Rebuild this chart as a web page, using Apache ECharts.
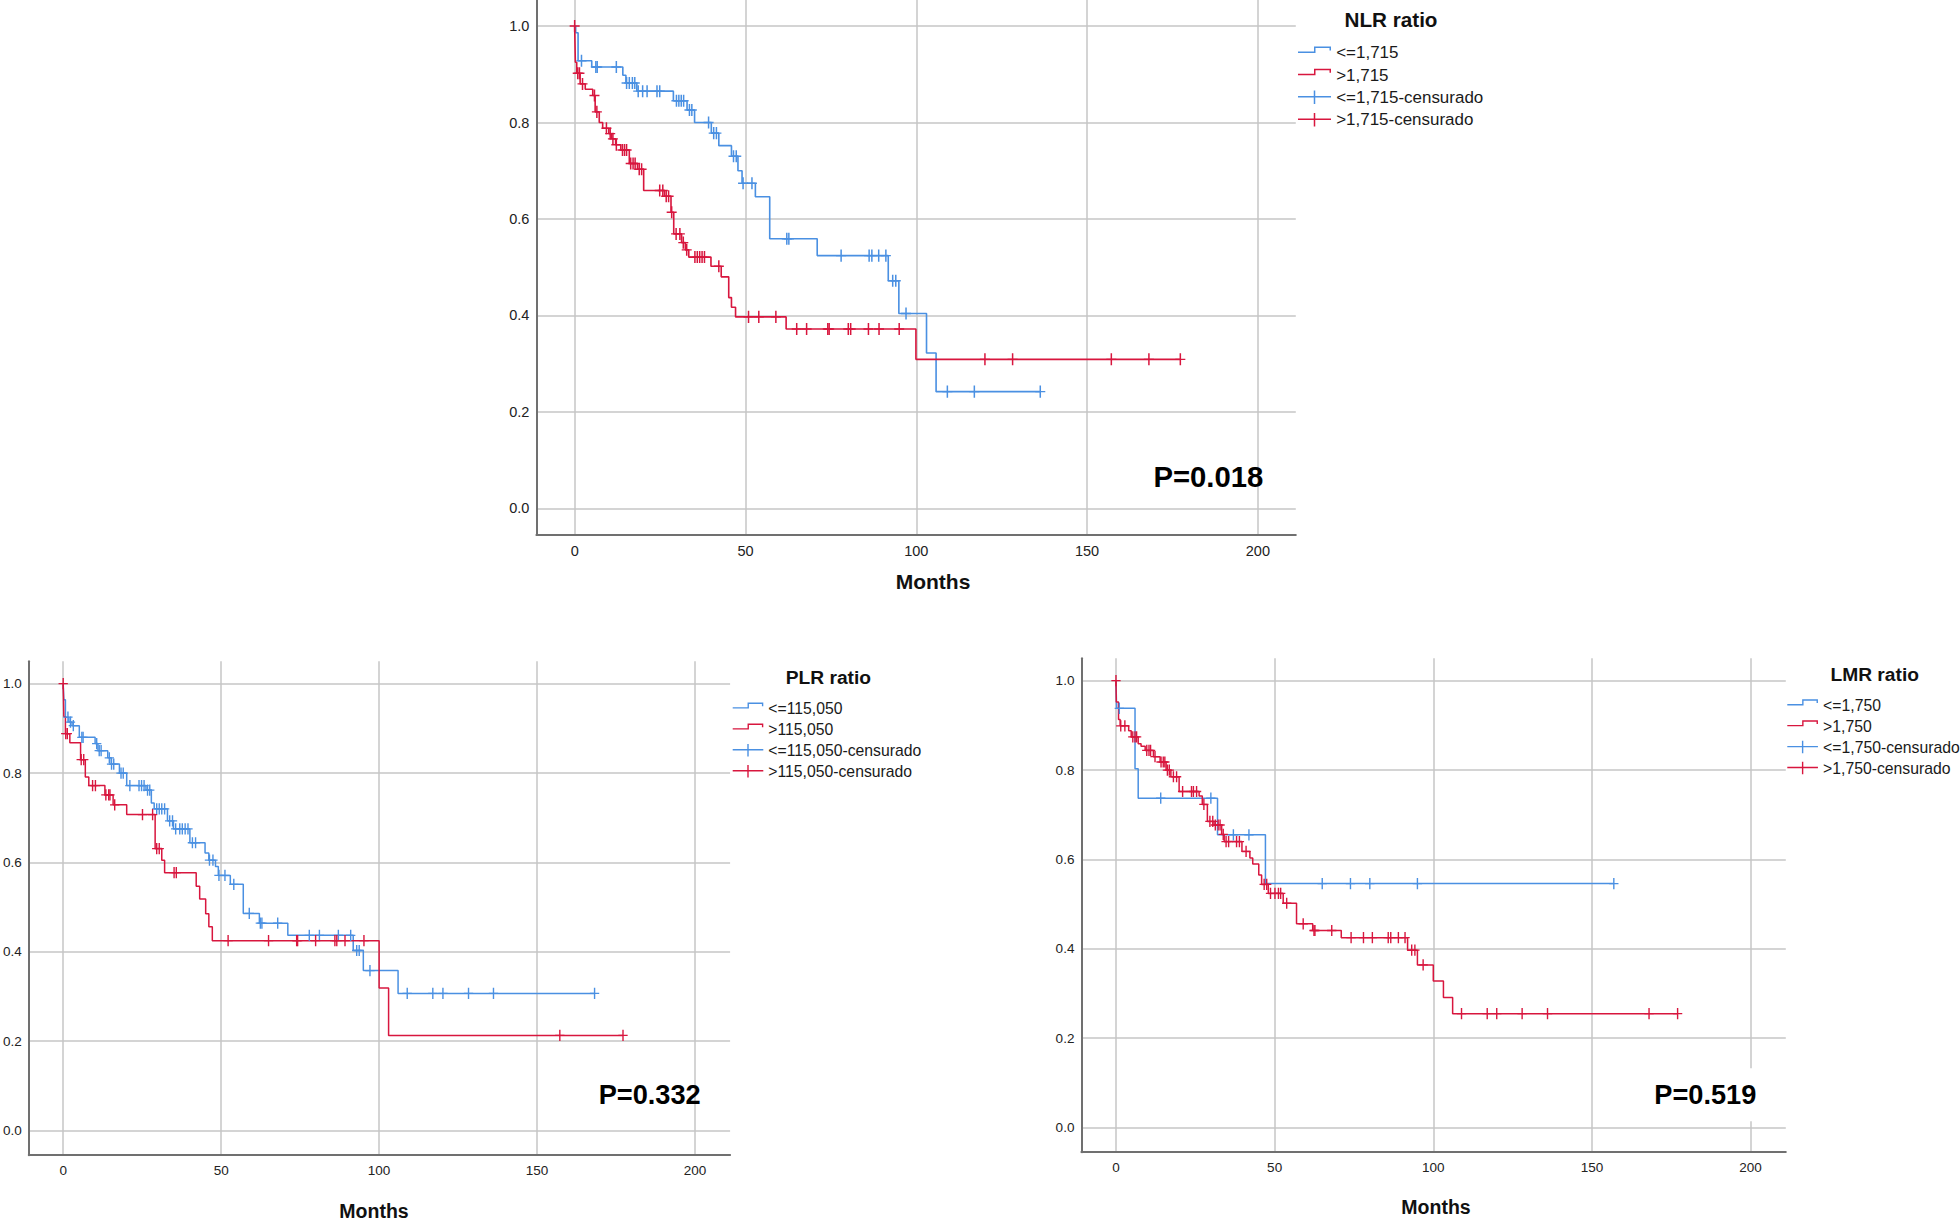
<!DOCTYPE html>
<html>
<head>
<meta charset="utf-8">
<title>Kaplan-Meier NLR / PLR / LMR</title>
<script src="https://cdn.jsdelivr.net/npm/echarts@6/dist/echarts.min.js"></script>
<style>
  html, body { margin: 0; padding: 0; background: #fff; }
  #chart { width: 1960px; height: 1221px; }
</style>
</head>
<body>
<div id="chart"></div>
<script>
// step drops: [month, survival after the drop]
const nlrLowDrops = [[0.3, 0.986], [1.0, 0.928], [5.0, 0.915], [14.1, 0.898], [15.0, 0.882], [18.2, 0.865], [28.9, 0.845], [32.9, 0.826], [35.1, 0.800], [40.0, 0.778], [42.2, 0.752], [45.9, 0.730], [47.8, 0.700], [49.0, 0.674], [52.9, 0.646], [57.1, 0.559], [71.0, 0.524], [91.8, 0.472], [94.9, 0.404], [103.0, 0.322], [105.8, 0.242]]
const nlrLowCensored = [2.0, 6.2, 6.6, 12.2, 15.2, 16.0, 16.9, 17.6, 18.6, 19.9, 21.2, 24.1, 24.9, 29.8, 30.5, 31.2, 31.9, 33.6, 34.3, 39.2, 40.7, 41.5, 46.5, 47.3, 49.3, 51.9, 62.1, 62.7, 78.0, 86.2, 87.0, 89.0, 91.1, 93.1, 94.0, 97.0, 109.1, 117.0, 136.3]
const nlrHighDrops = [[0.2, 0.925], [0.6, 0.902], [1.6, 0.880], [3.1, 0.869], [5.3, 0.856], [6.0, 0.822], [7.2, 0.800], [8.2, 0.788], [10.0, 0.777], [10.8, 0.766], [12.0, 0.754], [13.5, 0.743], [16.0, 0.715], [18.4, 0.703], [20.2, 0.659], [26.3, 0.647], [28.2, 0.614], [29.0, 0.569], [31.3, 0.551], [32.4, 0.536], [33.4, 0.521], [39.9, 0.502], [42.9, 0.480], [45.1, 0.437], [45.9, 0.417], [47.1, 0.397], [61.9, 0.372], [99.9, 0.309]]
const nlrHighCensored = [0.0, 0.9, 1.4, 2.3, 5.8, 6.5, 9.3, 10.4, 11.2, 12.2, 14.0, 14.6, 15.2, 16.4, 17.1, 17.7, 18.9, 19.6, 24.9, 25.8, 26.8, 27.5, 28.4, 29.7, 30.8, 31.8, 32.8, 35.2, 35.9, 36.6, 37.3, 38.0, 42.2, 50.9, 53.9, 58.9, 65.0, 67.9, 74.1, 74.5, 80.1, 80.8, 86.0, 89.1, 95.0, 120.1, 128.2, 157.1, 168.1, 177.3]

const plrLowDrops = [[0.2, 0.964], [0.7, 0.925], [1.8, 0.914], [2.8, 0.906], [5.1, 0.880], [10.1, 0.866], [11.0, 0.850], [14.1, 0.834], [15.2, 0.820], [17.8, 0.800], [20.1, 0.772], [26.2, 0.762], [27.9, 0.733], [28.8, 0.720], [33.0, 0.693], [34.9, 0.675], [40.1, 0.644], [44.9, 0.621], [46.1, 0.605], [48.2, 0.591], [49.1, 0.571], [52.9, 0.551], [57.0, 0.486], [62.1, 0.464], [71.1, 0.437], [91.8, 0.403], [95.0, 0.358], [106.0, 0.307]]
const plrLowCensored = [1.5, 2.3, 3.2, 5.9, 6.3, 10.6, 11.4, 12.0, 14.6, 15.3, 16.0, 18.3, 19.0, 21.1, 24.0, 24.8, 25.6, 26.7, 27.4, 29.6, 30.4, 31.2, 32.1, 33.7, 34.6, 35.6, 36.9, 37.7, 38.6, 39.5, 40.9, 41.9, 46.3, 47.4, 49.3, 51.2, 54.0, 58.9, 62.4, 62.9, 67.9, 77.9, 81.1, 87.1, 91.0, 92.9, 93.7, 97.1, 108.9, 117.0, 120.2, 128.3, 136.2, 168.2]
const plrHighDrops = [[0.2, 0.926], [0.7, 0.888], [2.1, 0.868], [5.5, 0.830], [7.0, 0.791], [8.1, 0.772], [13.2, 0.751], [15.8, 0.729], [20.1, 0.707], [29.1, 0.631], [31.2, 0.605], [32.1, 0.577], [42.1, 0.547], [43.2, 0.518], [45.1, 0.485], [46.1, 0.456], [47.2, 0.425], [100.0, 0.319], [103.0, 0.213]]
const plrHighCensored = [0.0, 0.8, 1.3, 5.7, 6.5, 9.3, 10.2, 13.5, 14.4, 14.8, 16.3, 25.1, 28.3, 29.6, 30.4, 35.1, 35.8, 52.2, 65.0, 73.9, 74.2, 79.9, 86.0, 86.6, 89.2, 95.2, 157.2, 177.2]

const lmrLowDrops = [[0.2, 0.938], [6.0, 0.803], [7.0, 0.737], [32.0, 0.655], [47.1, 0.546]]
const lmrLowCensored = [1.05, 14.1, 29.9, 37.0, 41.9, 65.0, 73.9, 80.0, 95.0, 156.9]
const lmrHighDrops = [[0.1, 0.952], [0.8, 0.913], [1.3, 0.899], [4.0, 0.888], [4.8, 0.874], [7.0, 0.859], [7.9, 0.853], [9.2, 0.844], [11.8, 0.830], [13.9, 0.818], [15.8, 0.800], [17.3, 0.785], [19.9, 0.752], [26.2, 0.742], [27.2, 0.723], [28.8, 0.685], [30.9, 0.677], [33.3, 0.656], [34.1, 0.640], [39.7, 0.618], [42.2, 0.603], [43.1, 0.590], [45.0, 0.565], [45.9, 0.544], [48.0, 0.524], [52.7, 0.502], [56.9, 0.456], [62.0, 0.441], [71.0, 0.425], [91.9, 0.397], [95.0, 0.364], [100.0, 0.328], [103.2, 0.291], [106.1, 0.255]]
const lmrHighCensored = [0.0, 1.5, 2.8, 5.3, 6.0, 6.5, 9.7, 10.4, 10.9, 12.3, 14.2, 14.9, 15.4, 16.2, 16.8, 18.1, 19.1, 21.0, 23.8, 24.4, 25.4, 27.7, 29.6, 30.5, 31.3, 32.2, 32.8, 33.8, 34.7, 35.5, 38.0, 38.9, 41.0, 46.7, 47.5, 48.7, 50.1, 51.2, 51.9, 53.8, 59.0, 62.4, 62.7, 68.0, 74.1, 78.0, 80.8, 85.8, 86.6, 89.0, 91.1, 93.2, 94.2, 96.8, 108.9, 117.0, 120.0, 128.0, 136.0, 168.0, 177.0]

const monthTicks = [0, 50, 100, 150, 200]
const survTicks = [0, 0.2, 0.4, 0.6, 0.8, 1.0]

const groupNames = [
  ['<=1,715', '>1,715'],
  ['<=115,050', '>115,050'],
  ['<=1,750', '>1,750']
]
const panelTitles = ['NLR ratio', 'PLR ratio', 'LMR ratio']
const pValues = ['P=0.018', 'P=0.332', 'P=0.519']

const BLUE = '#4a90e2'
const RED = '#d8163e'
const FONT = "'Liberation Sans', Arial, sans-serif"

// plus sign used for censored cases, legend icons for step / censored
const plusPath = 'path://M8.5,0H11.5V11.5H20V14.5H11.5V26H8.5V14.5H0V11.5H8.5Z'
const stepIcon = 'path://M0,0h0.01v0.01h-0.01z M0,14h0.01v-0.01h-0.01z M0,5.5H16V0.5H33V4.5H31.5V2H17.5V7H0Z'
const censIcon = 'path://M0,14h0.01v-0.01h-0.01z M0,5.5H33V7H0Z M15.75,0H17.25V13.5H15.75Z'

// layout of each panel (pixels), kept apart from the data
const panels = [
  { left: 536.4, top: 0, width: 759.4, height: 534.4, xMin: -11.2, xMax: 211.1, yMin: -0.054, yMax: 1.054,
    s: 1.077, legendLeft: 1298, legendTop: 44.4, iconW: 33.4, titleX: 1391, titleY: 19.6,
    monthsX: 933, monthsY: 581.7, pRight: 1263.3, pY: 476.7, pBg: false },
  { left: 25.7, top: 661.3, width: 704.4, height: 493.9, xMin: -10.9, xMax: 211.1, yMin: -0.055, yMax: 1.05,
    s: 1, legendLeft: 732.7, legendTop: 700.6, iconW: 30.6, titleX: 828.4, titleY: 677,
    monthsX: 374, monthsY: 1210.7, pRight: 700.7, pY: 1094.8, pBg: false },
  { left: 1081.4, top: 658.3, width: 704.4, height: 493.9, xMin: -10.9, xMax: 211.1, yMin: -0.055, yMax: 1.05,
    s: 1, legendLeft: 1787.3, legendTop: 697.4, iconW: 31, titleX: 1874.7, titleY: 674.4,
    monthsX: 1436, monthsY: 1207.3, pRight: 1758.3, pY: 1094.8, pBg: true }
]

const groups = [
  [nlrLowDrops, nlrLowCensored, nlrHighDrops, nlrHighCensored],
  [plrLowDrops, plrLowCensored, plrHighDrops, plrHighCensored],
  [lmrLowDrops, lmrLowCensored, lmrHighDrops, lmrHighCensored]
]

function survivalAt(drops, t) {
  let s = 1
  drops.forEach(d => {
    if (d[0] <= t) s = d[1]
  })
  return s
}

function curve(drops, censored) {
  const last = drops[drops.length - 1]
  const end = Math.max(last[0], censored[censored.length - 1])
  return [[0, 1]].concat(drops, [[end, last[1]]])
}

function censorPoints(drops, censored) {
  return censored.map(t => [t, survivalAt(drops, t)])
}

const grids = []
const xAxes = []
const yAxes = []
const series = []
const legends = []
const graphics = []

panels.forEach((p, i) => {
  const s = p.s
  grids.push({ left: p.left, top: p.top, width: p.width, height: p.height })
  xAxes.push({
    type: 'value',
    gridIndex: i,
    min: p.xMin,
    max: p.xMax,
    axisLine: { show: true, onZero: false, lineStyle: { color: '#707070', width: 2 } },
    axisTick: { show: false, customValues: monthTicks },
    axisLabel: { customValues: monthTicks, fontSize: 13.5 * s, fontFamily: FONT, color: '#222', margin: 8.5 * s },
    splitLine: { show: true, lineStyle: { color: '#c6c6c6', width: 1.5 } }
  })
  yAxes.push({
    type: 'value',
    gridIndex: i,
    min: p.yMin,
    max: p.yMax,
    axisLine: { show: true, onZero: false, lineStyle: { color: '#707070', width: 2 } },
    axisTick: { show: false, customValues: survTicks },
    axisLabel: {
      customValues: survTicks,
      fontSize: 13.5 * s,
      fontFamily: FONT,
      color: '#222',
      margin: 7,
      formatter: v => v.toFixed(1)
    },
    splitLine: { show: true, lineStyle: { color: '#c6c6c6', width: 1.5 } }
  })

  const [lowDrops, lowCens, highDrops, highCens] = groups[i]
  const [lowName, highName] = groupNames[i]
  const lineW = 1.5 * s
  const markSize = [9.3 * s, 11.2 * s]
  series.push(
    {
      type: 'line', name: lowName, xAxisIndex: i, yAxisIndex: i,
      data: curve(lowDrops, lowCens), step: 'end', symbol: 'none',
      lineStyle: { color: BLUE, width: lineW }, itemStyle: { color: BLUE }, z: 3
    },
    {
      type: 'line', name: highName, xAxisIndex: i, yAxisIndex: i,
      data: curve(highDrops, highCens), step: 'end', symbol: 'none',
      lineStyle: { color: RED, width: lineW }, itemStyle: { color: RED }, z: 4
    },
    {
      type: 'scatter', name: lowName + '-censurado', xAxisIndex: i, yAxisIndex: i,
      data: censorPoints(lowDrops, lowCens), symbol: plusPath, symbolSize: markSize,
      itemStyle: { color: BLUE, opacity: 1 }, z: 5
    },
    {
      type: 'scatter', name: highName + '-censurado', xAxisIndex: i, yAxisIndex: i,
      data: censorPoints(highDrops, highCens), symbol: plusPath, symbolSize: markSize,
      itemStyle: { color: RED, opacity: 1 }, z: 6
    }
  )

  const legendFont = 15.75 * s
  legends.push({
    orient: 'vertical',
    left: p.legendLeft,
    top: p.legendTop,
    padding: 0,
    itemWidth: p.iconW,
    itemHeight: 13 * s,
    itemGap: 20.7 * s - legendFont,
    selectedMode: false,
    textStyle: { fontSize: legendFont, fontFamily: FONT, color: '#1a1a1a', padding: [0, 0, 0, 0] },
    data: [
      { name: lowName, icon: stepIcon, itemStyle: { color: BLUE, borderWidth: 0 } },
      { name: highName, icon: stepIcon, itemStyle: { color: RED, borderWidth: 0 } },
      { name: lowName + '-censurado', icon: censIcon, itemStyle: { color: BLUE, borderWidth: 0 } },
      { name: highName + '-censurado', icon: censIcon, itemStyle: { color: RED, borderWidth: 0 } }
    ]
  })

  graphics.push(
    {
      type: 'text', x: p.titleX, y: p.titleY, z: 10,
      style: { text: panelTitles[i], fontSize: 19.2 * s, fontWeight: 'bold', fontFamily: FONT, fill: '#111', align: 'center', verticalAlign: 'middle' }
    },
    {
      type: 'text', x: p.monthsX, y: p.monthsY, z: 10,
      style: { text: 'Months', fontSize: 19.5 * s, fontWeight: 'bold', fontFamily: FONT, fill: '#111', align: 'center', verticalAlign: 'middle' }
    },
    {
      type: 'text', x: p.pRight, y: p.pY, z: 10,
      style: {
        text: pValues[i], fontSize: 27.2 * s, fontWeight: 'bold', fontFamily: FONT, fill: '#000',
        align: 'right', verticalAlign: 'middle',
        backgroundColor: p.pBg ? '#fff' : null, padding: p.pBg ? [13, 2, 13, 2] : 0
      }
    }
  )
})

const chart = echarts.init(document.getElementById('chart'), null, { renderer: 'svg' })
chart.setOption({
  animation: false,
  backgroundColor: '#fff',
  grid: grids,
  xAxis: xAxes,
  yAxis: yAxes,
  legend: legends,
  series: series,
  graphic: graphics
})
</script>
</body>
</html>
